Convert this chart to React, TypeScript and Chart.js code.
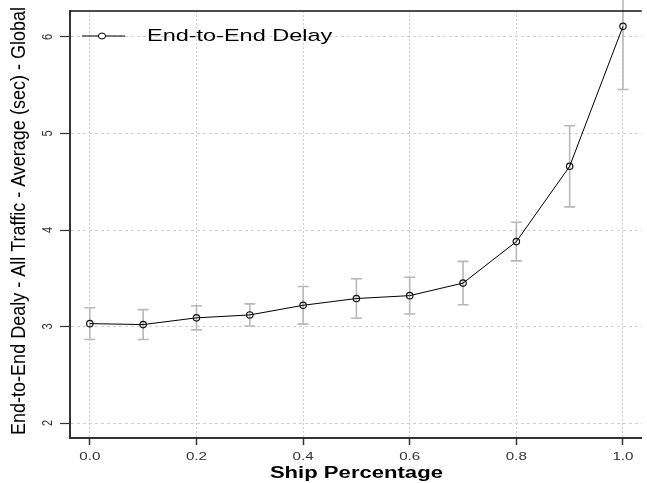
import React, { useEffect, useRef } from "react";
import { Chart, registerables } from "chart.js";

Chart.register(...registerables);

// ---- data ----
const shipPercentage = [0.0, 0.1, 0.2, 0.3, 0.4, 0.5, 0.6, 0.7, 0.8, 0.9, 1.0];
const delayMean = [3.03, 3.02, 3.09, 3.12, 3.22, 3.29, 3.32, 3.45, 3.88, 4.66, 6.11];
const delayErr = [0.165, 0.155, 0.125, 0.115, 0.195, 0.205, 0.19, 0.225, 0.2, 0.42, 0.655];
const xTicks = [0.0, 0.2, 0.4, 0.6, 0.8, 1.0];
const xTickLabels = ["0.0", "0.2", "0.4", "0.6", "0.8", "1.0"];
const yTicks = [2, 3, 4, 5, 6];
const yTickLabels = ["2", "3", "4", "5", "6"];
const seriesLabel = "End-to-End Delay";
const xTitle = "Ship Percentage";
const yTitle = "End-to-End Dealy - All Traffic - Average (sec) - Global";

const FONT = "'Liberation Sans', Arial, sans-serif";
const SX = 1.38; // horizontal stretch of the original raster

function drawText(
  ctx: CanvasRenderingContext2D,
  text: string,
  x: number,
  y: number,
  font: string,
  color: string,
  align: CanvasTextAlign,
  stretch: number,
  rotated: boolean
) {
  ctx.save();
  ctx.translate(x, y);
  if (rotated) {
    ctx.rotate(-Math.PI / 2);
    ctx.scale(1, stretch);
  } else {
    ctx.scale(stretch, 1);
  }
  ctx.font = font;
  ctx.fillStyle = color;
  ctx.textAlign = align;
  ctx.textBaseline = "middle";
  ctx.fillText(text, 0, 0);
  ctx.restore();
}

const errorBarPlugin = {
  id: "errorBars",
  beforeDatasetsDraw(chart: any) {
    const ctx = chart.ctx as CanvasRenderingContext2D;
    const xs = chart.scales.x;
    const ys = chart.scales.y;
    ctx.save();
    ctx.strokeStyle = "#b8b8b8";
    ctx.lineWidth = 1.6;
    shipPercentage.forEach((xv, i) => {
      const px = xs.getPixelForValue(xv);
      const top = ys.getPixelForValue(delayMean[i] + delayErr[i]);
      const bot = ys.getPixelForValue(delayMean[i] - delayErr[i]);
      ctx.beginPath();
      ctx.moveTo(px, top);
      ctx.lineTo(px, bot);
      ctx.moveTo(px - 5.5, top);
      ctx.lineTo(px + 5.5, top);
      ctx.moveTo(px - 5.5, bot);
      ctx.lineTo(px + 5.5, bot);
      ctx.stroke();
    });
    ctx.restore();
  },
};

const decorPlugin = {
  id: "decor",
  afterDraw(chart: any) {
    const ctx = chart.ctx as CanvasRenderingContext2D;
    const xs = chart.scales.x;
    const ys = chart.scales.y;
    const area = chart.chartArea;

    // top box line
    ctx.save();
    ctx.strokeStyle = "#111";
    ctx.lineWidth = 1.5;
    ctx.beginPath();
    ctx.moveTo(area.left, area.top);
    ctx.lineTo(area.right, area.top);
    ctx.stroke();
    ctx.restore();

    // tick labels
    xTicks.forEach((v, i) => {
      drawText(ctx, xTickLabels[i], xs.getPixelForValue(v), 457, `11px ${FONT}`, "#333", "center", SX, false);
    });
    yTicks.forEach((v, i) => {
      drawText(ctx, yTickLabels[i], 48, ys.getPixelForValue(v), `11px ${FONT}`, "#333", "center", SX, true);
    });

    // axis titles
    drawText(ctx, xTitle, xs.getPixelForValue(0.5), 474, `bold 16px ${FONT}`, "#000", "center", SX, false);
    drawText(ctx, yTitle, 19.5, 221, `18px ${FONT}`, "#000", "center", 1.15, true);

    // legend
    const ly = 36;
    ctx.save();
    ctx.strokeStyle = "#000";
    ctx.lineWidth = 1;
    ctx.beginPath();
    ctx.moveTo(82, ly);
    ctx.lineTo(125, ly);
    ctx.stroke();
    ctx.beginPath();
    ctx.ellipse(102, ly, 3.6, 3, 0, 0, Math.PI * 2);
    ctx.fillStyle = "#fff";
    ctx.fill();
    ctx.stroke();
    ctx.restore();
    drawText(ctx, seriesLabel, 147, ly, `17px ${FONT}`, "#000", "left", SX, false);
  },
};

export default function App() {
  const canvasRef = useRef<HTMLCanvasElement | null>(null);

  useEffect(() => {
    document.body.style.margin = "0";
    document.body.style.overflow = "hidden";
    const canvas = canvasRef.current;
    if (!canvas) return;
    const chart = new Chart(canvas, {
      type: "line",
      data: {
        datasets: [
          {
            label: seriesLabel,
            data: shipPercentage.map((x, i) => ({ x, y: delayMean[i] })),
            borderColor: "#000",
            borderWidth: 1,
            pointRadius: 3.2,
            pointBorderWidth: 1.2,
            pointBorderColor: "#111",
            pointBackgroundColor: "rgba(255,255,255,0)",
            tension: 0,
            clip: false as any,
          },
        ],
      },
      options: {
        responsive: false,
        animation: false,
        events: [],
        layout: { padding: { left: 60, top: 11, right: 0, bottom: 38 } },
        plugins: {
          legend: { display: false },
          tooltip: { enabled: false },
          title: { display: false },
        },
        scales: {
          x: {
            type: "linear",
            min: -0.0372,
            max: 1.0353,
            afterBuildTicks: (scale: any) => {
              scale.ticks = xTicks.map((v) => ({ value: v }));
            },
            ticks: { display: false },
            grid: {
              color: "#cfcfcf",
              lineWidth: 1,
              drawTicks: true,
              tickLength: 7,
              tickColor: "#333",
              tickWidth: 1.5,
              tickBorderDash: [],
            },
            border: { display: true, color: "#333", width: 2, dash: [2, 2] },
          },
          y: {
            type: "linear",
            min: 1.845,
            max: 6.269,
            afterBuildTicks: (scale: any) => {
              scale.ticks = yTicks.map((v) => ({ value: v }));
            },
            ticks: { display: false },
            grid: {
              color: "#cfcfcf",
              lineWidth: 1,
              drawTicks: true,
              tickLength: 10,
              tickColor: "#333",
              tickWidth: 1.2,
              tickBorderDash: [],
            },
            border: { display: true, color: "#333", width: 2, dash: [3, 3] },
          },
        },
      },
      plugins: [errorBarPlugin, decorPlugin],
    });
    return () => chart.destroy();
  }, []);

  return (
    <div style={{ width: 647, height: 483, background: "#fff" }}>
      <canvas ref={canvasRef} width={647} height={483} style={{ display: "block" }} />
    </div>
  );
}
